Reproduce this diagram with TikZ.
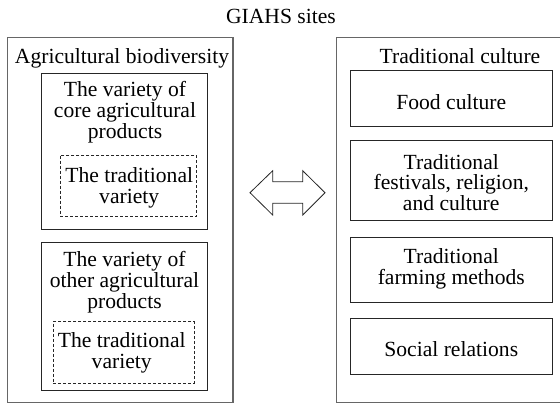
\documentclass[tikz,border=0pt]{standalone}
\usepackage{fontspec}
\setmainfont{Liberation Serif}
\begin{document}
\begin{tikzpicture}[x=1pt,y=-1pt,
  outer/.style={draw=black!60, line width=1.3pt, inner sep=0pt},
  inbox/.style={draw=black!85, line width=0.8pt, inner sep=0pt},
  dbox/.style={draw=black!85, line width=0.8pt, dash pattern=on 3pt off 2pt, inner sep=0pt},
  txt/.style={font=\fontsize{21.6}{20.5}\selectfont, align=center, inner sep=0pt, anchor=base},
  txtw/.style={font=\fontsize{21.6}{21}\selectfont, align=center, inner sep=0pt, anchor=base},
  arr/.style={draw=black!85, line width=0.8pt, line join=miter}]
\useasboundingbox (0,0) rectangle (560,404);
\clip (0,0) rectangle (560,404);
% outer boxes
\node[outer, minimum width=225.5pt, minimum height=365pt] (L) at (120.25,220) {};
\node[outer, minimum width=226.3pt, minimum height=365pt] (R) at (449.85,220) {};
% left inner boxes
\node[inbox, minimum width=165.6pt, minimum height=156pt] (core) at (124.5,151.3) {};
\node[dbox, minimum width=136.7pt, minimum height=61pt] (trad1) at (128.35,185.5) {};
\node[inbox, minimum width=165.6pt, minimum height=148pt] (other) at (124.5,316.7) {};
\node[dbox, minimum width=140.7pt, minimum height=61.6pt] (trad2) at (123.65,352.5) {};
% right inner boxes
\node[inbox, minimum width=202.5pt, minimum height=55.3pt] (food) at (451.25,98.35) {};
\node[inbox, minimum width=202.5pt, minimum height=80pt] (fest) at (451.25,180.7) {};
\node[inbox, minimum width=202.5pt, minimum height=65.4pt] (farm) at (451.25,270) {};
\node[inbox, minimum width=202.5pt, minimum height=55.7pt] (soc) at (451.25,346.2) {};
% texts (multi-line nodes: base = last line's baseline)
\node[txt] (title) at (281,23.5) {GIAHS sites};
\node[txt] (agri) at (122,63.3) {Agricultural biodiversity};
\node[txtw] (coret) at (125,138.7) {The variety of\\core agricultural\\products};
\node[txt] (trad1t) at (129.2,203.3) {The traditional\\variety};
\node[txtw] (othert) at (124.5,308.1) {The variety of\\other agricultural\\products};
\node[txt] (trad2t) at (121.7,368.3) {The traditional\\variety};
\node[txt] (cult) at (460,63.3) {Traditional culture};
\node[txt] (foodt) at (451.25,110) {Food culture};
\node[txt] (festt) at (451.25,210) {Traditional\\festivals, religion,\\and culture};
\node[txt] (farmt) at (451.25,284) {Traditional\\farming methods};
\node[txt] (soct) at (451.25,356.7) {Social relations};
% double arrow
\draw[arr] (250,192.7) -- (272.7,170.7) -- (272.7,181.7) -- (302.7,181.7) -- (302.7,170.7)
  -- (325,192.7) -- (302.7,215) -- (302.7,203.3) -- (272.7,203.3) -- (272.7,215) -- cycle;
\end{tikzpicture}
\end{document}
